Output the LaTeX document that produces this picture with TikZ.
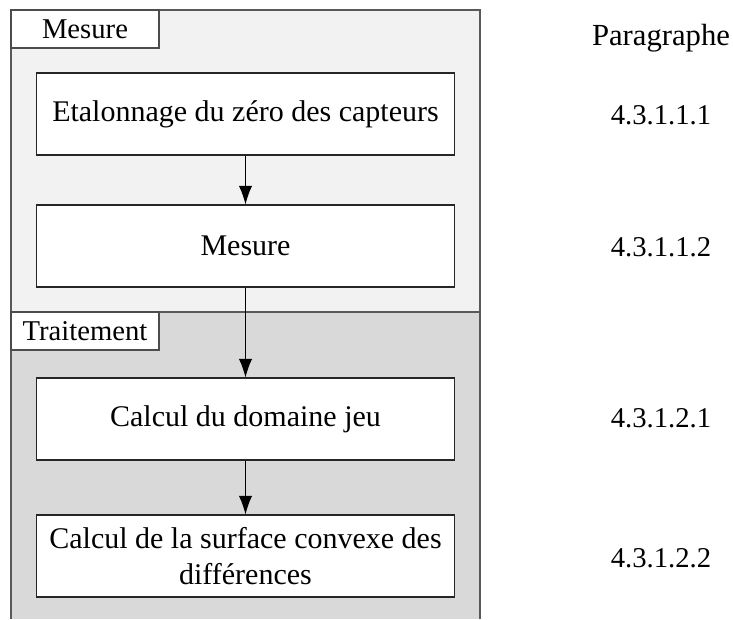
\documentclass[tikz,border=0pt]{standalone}
\usepackage{fontspec}
\setmainfont{Liberation Serif}
\usetikzlibrary{
    arrows.meta,  % For arrow tips
    positioning   % For relative placement
}

\begin{document}
\begin{tikzpicture}[
    x=0.75pt, y=-0.75pt, % one unit = one pixel, y down
    >={Latex[length=14pt, width=10pt]}, % Default arrow tip
    flow/.style={->, line width=0.8pt}, % Style for connectors
    region/.style={draw=black!65, line width=1pt}, % Phase background
    tab/.style={draw=black!70, fill=white, line width=0.8pt,
        minimum width=111pt, minimum height=28.5pt, inner sep=0pt,
        font=\fontsize{21.5}{24}\selectfont},
    stepbox/.style={draw=black!85, fill=white, line width=0.8pt,
        minimum width=314pt, minimum height=61.5pt, inner sep=2pt,
        align=center, font=\fontsize{22.5}{27.5}\selectfont},
    parlabel/.style={font=\fontsize{21.5}{24}\selectfont} % Paragraph numbers
]

    % Bounding box (reference size)
    \useasboundingbox (0, 0) rectangle (733, 619);

    % Phase regions
    \path[fill=black!5] (11, 10) rectangle (480, 312);
    \path[fill=black!15] (11, 312) rectangle (480, 619);
    \draw[region] (11, 312) rectangle (480, 10);         % Mesure frame
    \draw[region] (11, 619) -- (11, 312) -- (480, 312) -- (480, 619); % Traitement frame

    % Phase tabs
    \node[tab] (tabMesure) at (85, 29) {Mesure};
    \node[tab] (tabTraitement) at (85, 331) {Traitement};

    % Steps
    \node[stepbox] (zero) at (245.5, 114) {Etalonnage du zéro des capteurs};
    \node[stepbox] (mesure) at (245.5, 246) {Mesure};
    \node[stepbox] (domaine) at (245.5, 419) {Calcul du domaine jeu};
    \node[stepbox] (surface) at (245.5, 556) {Calcul de la surface convexe des\\différences};

    % Connectors
    \draw[flow] (zero) -- (mesure);
    \draw[flow] (mesure) -- (domaine);
    \draw[flow] (domaine) -- (surface);

    % Paragraph column
    \node[parlabel, font=\fontsize{23}{26}\selectfont] (parHead) at (661, 38) {Paragraphe};
    \node[parlabel] (parZero) at (661, 115) {4.3.1.1.1};
    \node[parlabel] (parMesure) at (661, 247) {4.3.1.1.2};
    \node[parlabel] (parDomaine) at (661, 418) {4.3.1.2.1};
    \node[parlabel] (parSurface) at (661, 558) {4.3.1.2.2};

\end{tikzpicture}
\end{document}
